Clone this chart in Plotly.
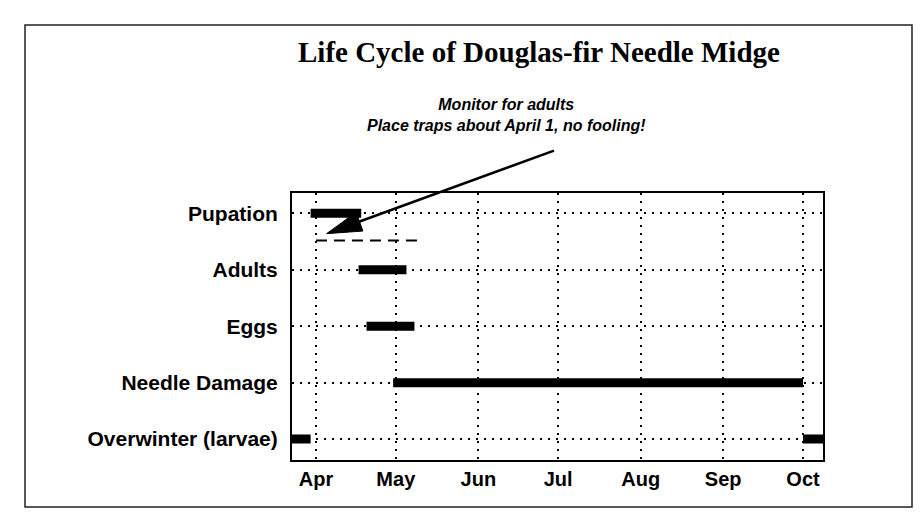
import math
import datetime as dt
import plotly.graph_objects as go

# ---------------- data ----------------
stages = ["Overwinter (larvae)", "Needle Damage", "Eggs", "Adults", "Pupation"]
stage_pos = [0, 1, 2, 3, 4]
# each stage: list of (start, end) periods
periods = {
    "Pupation": [("2001-03-30", "2001-04-18")],
    "Adults": [("2001-04-17", "2001-05-05")],
    "Eggs": [("2001-04-20", "2001-05-08")],
    "Needle Damage": [("2001-04-30", "2001-10-01")],
    "Overwinter (larvae)": [("2001-03-10", "2001-03-30"), ("2001-10-01", "2001-10-25")],
}
month_ticks = ["2001-04-01", "2001-05-01", "2001-06-01", "2001-07-01",
               "2001-08-01", "2001-09-01", "2001-10-01"]
month_labels = ["Apr", "May", "Jun", "Jul", "Aug", "Sep", "Oct"]
x_range = ["2001-03-23", "2001-10-08 12:00"]
y_range = [-0.37, 4.36]

trap_window = ("2001-04-01", "2001-05-09")   # dashed "monitor" line
trap_level = 3.52
arrow_tip = ("2001-04-05", 3.64)
arrow_tail = ("2001-06-30", 5.12)

title = "Life Cycle of Douglas-fir Needle Midge"
note = "Monitor for adults<br>Place traps about April 1, no fooling!"

# ---------------- layout geometry (pixels) ----------------
W, H = 921, 518
PL, PR, PT, PB = 284, 815, 185, 452
pw, ph = PR - PL, PB - PT


def px2paper_x(px):
    return (px - PL) / pw


def px2paper_y(py):
    return (PB - py) / ph


fig = go.Figure()

for name, y in zip(stages, stage_pos):
    for (s, e) in periods[name]:
        fig.add_trace(go.Scatter(
            x=[s, e], y=[y, y], mode="lines",
            line=dict(color="black", width=9),
            hoverinfo="skip", showlegend=False,
        ))

# dashed monitoring line
fig.add_trace(go.Scatter(
    x=list(trap_window), y=[trap_level, trap_level], mode="lines",
    line=dict(color="black", width=2, dash="11px,7px"),
    hoverinfo="skip", showlegend=False,
))

grid = dict(showgrid=True, gridcolor="black", gridwidth=1.6, griddash="2px,6px")

fig.update_layout(
    width=W, height=H,
    margin=dict(l=PL, r=W - PR, t=PT, b=H - PB),
    paper_bgcolor="white", plot_bgcolor="white",
    showlegend=False,
    xaxis=dict(
        type="date", range=x_range,
        tickvals=month_ticks, ticktext=month_labels,
        tickfont=dict(family="Liberation Sans", size=20, color="black", weight="bold"),
        showline=True, linecolor="black", linewidth=2, mirror=True,
        ticks="", zeroline=False, ticklabelstandoff=0,
        **grid,
    ),
    yaxis=dict(
        range=y_range,
        tickvals=stage_pos, ticktext=stages,
        tickfont=dict(family="Liberation Sans", size=21, color="black", weight="bold"),
        showline=True, linecolor="black", linewidth=2, mirror=True,
        ticks="", zeroline=False, ticklabelstandoff=8,
        **grid,
    ),
)

# arrow line (annotation) from note to the dashed line
fig.add_annotation(
    x=arrow_tip[0], y=arrow_tip[1], xref="x", yref="y",
    ax=arrow_tail[0], ay=arrow_tail[1], axref="x", ayref="y",
    showarrow=True, arrowhead=0, arrowwidth=2.6, arrowcolor="black", text="",
    standoff=14,
)
# arrow head: filled triangle in pixel units anchored at tip
t0 = dt.datetime.fromisoformat(x_range[0])
t1 = dt.datetime.fromisoformat(x_range[1])
ppd = pw / ((t1 - t0).total_seconds() / 86400)
ppu = ph / (y_range[1] - y_range[0])
tip_px = (dt.datetime.fromisoformat(arrow_tip[0]) - t0).total_seconds() / 86400 * ppd
tail_px = (dt.datetime.fromisoformat(arrow_tail[0]) - t0).total_seconds() / 86400 * ppd
vx = tail_px - tip_px
vy = (arrow_tail[1] - arrow_tip[1]) * ppu  # upward positive
L = math.hypot(vx, vy)
ux, uy = vx / L, vy / L
hl, hw = 35, 10
bx, by = ux * hl, uy * hl
nx, ny = -uy * hw, ux * hw
path = "M0,0 L{:.1f},{:.1f} L{:.1f},{:.1f} Z".format(bx + nx, by + ny, bx - nx, by - ny)
fig.add_shape(
    type="path", path=path, xref="x", yref="y",
    xsizemode="pixel", ysizemode="pixel",
    xanchor=arrow_tip[0], yanchor=arrow_tip[1],
    fillcolor="black", line=dict(color="black", width=1),
)

# note text
fig.add_annotation(
    text="<b><i>" + note + "</i></b>", xref="paper", yref="paper",
    x=px2paper_x(498), y=px2paper_y(107), showarrow=False,
    font=dict(family="Liberation Sans", size=16, color="black"),
    align="center", xanchor="center", yanchor="middle",
)

# title
fig.add_annotation(
    text="<b>" + title + "</b>", xref="paper", yref="paper",
    x=px2paper_x(531), y=px2paper_y(44), showarrow=False,
    font=dict(family="Liberation Serif", size=29, color="black"),
    xanchor="center", yanchor="middle",
)

# outer frame
fig.add_shape(
    type="rect", xref="paper", yref="paper",
    x0=px2paper_x(17), x1=px2paper_x(904), y0=px2paper_y(499), y1=px2paper_y(17),
    line=dict(color="#222", width=1.5), fillcolor="rgba(0,0,0,0)", layer="below",
)

fig.write_html("out.html")
